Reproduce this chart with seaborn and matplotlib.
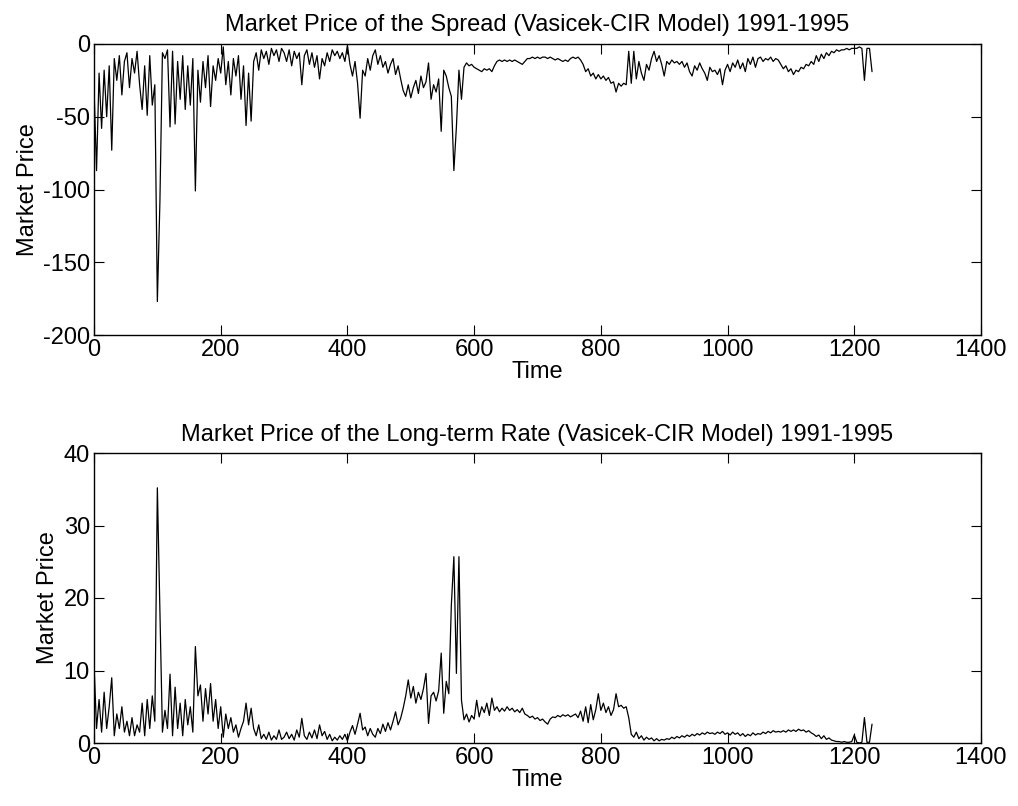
import numpy as np
import pandas as pd
import matplotlib
matplotlib.use("Agg")
import matplotlib.pyplot as plt
import seaborn as sns

# ---- data (time step of 4 units, 0 .. 1228) ----
time = np.arange(0, 1232, 4)

spread_price = [
    -30, -87, -20, -58, -18, -50, -15, -73, -10, -25, -8, -35, -12, -6, -30, -10, -20, -5, -28, -45, -15, -49, -8, -42, -28,
    -177, -109, -6, -10, -4, -57, -5, -55, -12, -38, -8, -45, -15, -42, -10, -101, -18, -40, -12, -30, -8, -43, -15, -25, -10,
    -20, -2, -28, -12, -35, -10, -22, -8, -38, -15, -56, -20, -53, -12, -6, -18, -4, -10, -5, -14, -3, -8, -4, -12, -3,
    -6, -12, -4, -15, -5, -10, -6, -28, -8, -4, -14, -6, -16, -8, -24, -10, -15, -6, -12, -4, -8, -5, -10, -6, -12,
    -1, -14, -22, -12, -27, -51, -18, -22, -10, -18, -8, -4, -14, -8, -16, -12, -20, -14, -10, -21, -15, -24, -32, -36, -28,
    -37, -30, -25, -34, -22, -30, -26, -13, -38, -28, -33, -24, -60, -18, -22, -30, -36, -87, -57, -18, -38, -16, -13, -15, -14,
    -16, -17, -18, -19, -17, -18, -17, -19, -15, -12, -11, -12, -11, -12, -11, -12, -11, -12, -13, -14, -12, -10, -10, -9, -10,
    -9, -10, -9, -9, -10, -9, -10, -11, -10, -11, -12, -11, -12, -10, -9, -10, -9, -11, -14, -19, -17, -22, -20, -24, -21,
    -24, -22, -25, -23, -27, -26, -33, -27, -29, -27, -28, -5, -27, -5, -24, -12, -20, -25, -14, -18, -10, -5, -12, -8, -14,
    -22, -12, -14, -11, -13, -12, -14, -12, -16, -13, -19, -22, -15, -18, -13, -17, -20, -25, -16, -19, -18, -21, -17, -28, -18,
    -14, -19, -13, -16, -11, -17, -13, -19, -10, -14, -9, -16, -10, -9, -12, -10, -11, -9, -12, -10, -11, -14, -17, -15, -19,
    -17, -21, -18, -19, -16, -17, -14, -15, -12, -14, -8, -12, -7, -10, -6, -8, -5, -6, -4, -5, -4, -4, -3, -4, -3,
    -3, -3, -2, -3, -25, -3, -3, -19,
]

longterm_price = [
    11, 2, 6, 1.5, 7, 2, 5, 9, 1, 4, 2, 5, 1.5, 3, 1, 3.5, 1, 2.5, 1.5, 5.5, 1, 6, 2, 6.5, 3,
    35.2, 18.4, 1.5, 4.5, 2, 9.5, 1, 7.7, 2, 5.5, 1, 6, 2.5, 5, 1.5, 13.3, 6.5, 8, 3, 7.5, 4, 8.2, 3, 6, 2,
    5, 0.8, 4, 2, 3.5, 1.5, 2.5, 0.8, 2, 3, 5.5, 2.5, 4.8, 2, 1, 2.5, 0.6, 1.2, 0.5, 1.5, 0.4, 1, 0.5, 1.8, 0.5,
    0.8, 1.5, 0.6, 1.2, 0.4, 1.8, 0.8, 3.4, 1, 0.5, 1.5, 0.7, 1.8, 0.6, 2.5, 1, 1.6, 0.5, 1.2, 0.3, 0.8, 0.4, 1, 0.5, 1.2,
    0.3, 1.5, 2.4, 1.2, 2.6, 4.1, 1.8, 2.2, 1, 2, 1.2, 0.8, 2, 1.3, 2.6, 1.6, 2.8, 1.8, 3, 4.3, 2.5, 3.4, 4.8, 6.5, 8.7,
    6.2, 7.8, 5.5, 7, 6, 7.5, 9.6, 2.7, 6.5, 7, 5.8, 7.2, 12.4, 4.1, 8.5, 6.8, 19, 25.7, 9.6, 25.7, 5.9, 3.2, 4, 2.9, 3.8,
    3.3, 5.9, 3.6, 5, 4.2, 5.5, 3.8, 6.2, 4.5, 5, 4.3, 4.8, 4.4, 5, 4.5, 4.8, 4.3, 4.6, 4.2, 4.8, 4, 3.8, 3.5, 3.7, 3.3,
    3.5, 3.1, 3.3, 2.9, 2.6, 3.3, 3.6, 3.5, 3.8, 3.6, 3.9, 3.7, 3.9, 3.6, 3.8, 4, 3.5, 4.4, 3, 5, 2.8, 5.3, 3.2, 4.6, 6.8,
    4.5, 5.5, 4.2, 5, 3.8, 4.6, 6.8, 5, 5.2, 4.8, 5, 3.5, 1.2, 0.8, 1.5, 0.6, 1.0, 0.4, 0.8, 0.5, 0.7, 0.3, 0.6, 0.3, 0.5,
    0.4, 0.6, 0.5, 0.8, 0.6, 0.9, 0.7, 1.0, 0.8, 1.1, 0.9, 1.2, 1.0, 1.3, 1.1, 1.4, 1.2, 1.5, 1.3, 1.4, 1.2, 1.5, 1.3, 1.6, 1.2,
    1.4, 1.1, 1.5, 1.2, 1.4, 1.0, 1.3, 0.9, 1.2, 1.0, 1.4, 1.1, 1.3, 1.2, 1.5, 1.3, 1.6, 1.4, 1.7, 1.5, 1.6, 1.5, 1.7, 1.5, 1.8,
    1.6, 1.8, 1.6, 1.9, 1.7, 1.8, 1.5, 1.7, 1.4, 1.2, 0.9, 1.1, 0.6, 1.0, 0.5, 0.7, 0.4, 0.3, 0.2, 0.2, 0.1, 0.2, 0.1, 0.1, 0.2,
    1.1, 0.1, 0.0, 0.1, 3.5, 0.1, 0.1, 2.6,
]

titles = [
    "Market Price of the Spread (Vasicek-CIR Model) 1991-1995",
    "Market Price of the Long-term Rate (Vasicek-CIR Model) 1991-1995",
]
x_ticks = [0, 200, 400, 600, 800, 1000, 1200, 1400]
top_yticks = [-200, -150, -100, -50, 0]
bottom_yticks = [0, 10, 20, 30, 40]

# ---- style ----
sns.set_style("ticks")
plt.rcParams["font.family"] = ["Liberation Sans", "DejaVu Sans"]
plt.rcParams["axes.unicode_minus"] = False
plt.rcParams["font.size"] = 17
plt.rcParams["text.color"] = "black"
plt.rcParams["axes.labelcolor"] = "black"

fig = plt.figure(figsize=(10.18, 8.06), dpi=100)
ax1 = fig.add_axes([94 / 1018, 1 - 335 / 806, 887 / 1018, 291 / 806])
ax2 = fig.add_axes([94 / 1018, 1 - 743 / 806, 887 / 1018, 290 / 806])

df1 = pd.DataFrame({"Time": time, "Market Price": spread_price})
df2 = pd.DataFrame({"Time": time, "Market Price": longterm_price})

sns.lineplot(data=df1, x="Time", y="Market Price", ax=ax1, color="black", linewidth=0.9)
sns.lineplot(data=df2, x="Time", y="Market Price", ax=ax2, color="black", linewidth=0.9)

for ax, title, yt, ylim in [
    (ax1, titles[0], top_yticks, (-200, 0)),
    (ax2, titles[1], bottom_yticks, (0, 40)),
]:
    ax.set_xlim(0, 1400)
    ax.set_ylim(*ylim)
    ax.set_xticks(x_ticks)
    ax.set_yticks(yt)
    ax.set_title(title, fontsize=17, pad=9, color="black")
    ax.set_xlabel("Time", fontsize=17, labelpad=0, color="black")
    ax.set_ylabel("Market Price", fontsize=17, labelpad=3, color="black")
    ax.tick_params(direction="in", length=7, width=0.8, top=True, right=True,
                   labelsize=17, pad=3, colors="black")
    for s in ax.spines.values():
        s.set_visible(True)
        s.set_linewidth(1.0)
        s.set_color("black")

fig.savefig("out.png", dpi=100)
